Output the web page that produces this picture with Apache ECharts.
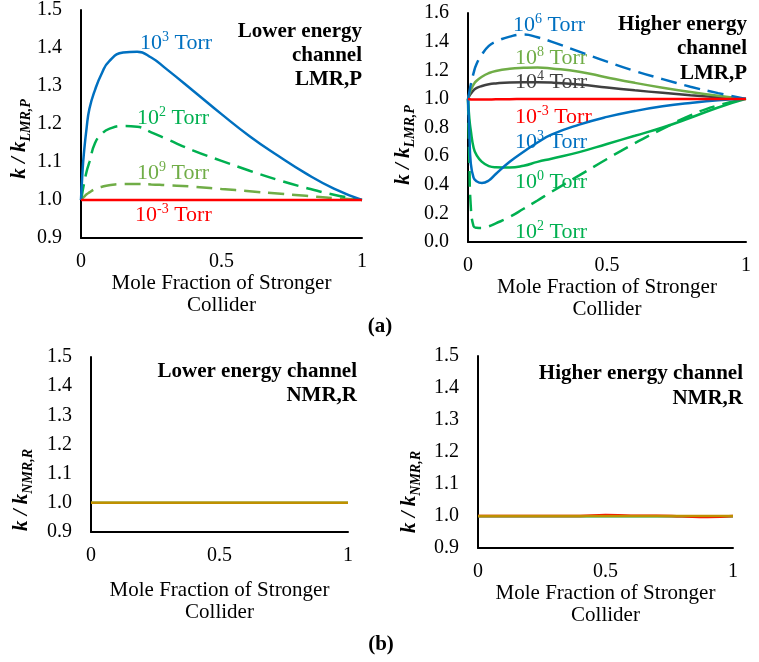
<!DOCTYPE html>
<html>
<head>
<meta charset="utf-8">
<script src="https://cdn.jsdelivr.net/npm/echarts@6/dist/echarts.min.js"></script>
<style>
  html, body { margin: 0; padding: 0; background: #fff; }
  #chart { width: 759px; height: 662px; }
</style>
</head>
<body>
<div id="chart"></div>
<script>
// 横轴取样点（上排两图共用）
const xTop = [0, 0.005, 0.01, 0.02, 0.03, 0.05, 0.075, 0.1, 0.15, 0.2, 0.25, 0.3, 0.4, 0.5, 0.6, 0.7, 0.8, 0.9, 1];

// (a) 左：Lower energy channel LMR,P
const lowP3 = [1.0, 1.07, 1.12, 1.19, 1.24, 1.29, 1.335, 1.365, 1.388, 1.39, 1.375, 1.347, 1.287, 1.226, 1.168, 1.117, 1.07, 1.03, 1.0];
const lowP2 = [1.0, 1.02, 1.04, 1.075, 1.1, 1.15, 1.175, 1.187, 1.195, 1.193, 1.178, 1.162, 1.13, 1.103, 1.077, 1.053, 1.032, 1.014, 1.0];
const lowP9 = [1.0, 1.004, 1.008, 1.015, 1.02, 1.029, 1.035, 1.039, 1.042, 1.042, 1.041, 1.039, 1.035, 1.029, 1.023, 1.017, 1.011, 1.005, 1.0];
const lowPm3 = [1.0, 1.0, 1.0, 1.0, 1.0, 1.0, 1.0, 1.0, 1.0, 1.0, 1.0, 1.0, 1.0, 1.0, 1.0, 1.0, 1.0, 1.0, 1.0];

// (a) 右：Higher energy channel LMR,P
const highP6 = [1.0, 1.05, 1.1, 1.18, 1.24, 1.31, 1.37, 1.4, 1.435, 1.45, 1.43, 1.4, 1.33, 1.26, 1.195, 1.138, 1.085, 1.04, 1.0];
const highP8 = [1.0, 1.035, 1.06, 1.1, 1.125, 1.155, 1.18, 1.195, 1.21, 1.217, 1.22, 1.213, 1.19, 1.15, 1.112, 1.078, 1.048, 1.022, 1.0];
const highP4 = [1.0, 1.02, 1.035, 1.06, 1.075, 1.09, 1.102, 1.108, 1.115, 1.117, 1.117, 1.114, 1.1, 1.08, 1.06, 1.042, 1.026, 1.012, 1.0];
const highPm3 = [1.0, 0.998, 0.996, 0.995, 0.995, 0.995, 0.996, 0.997, 0.998, 0.999, 1.0, 1.0, 1.0, 1.0, 1.0, 1.0, 1.0, 1.0, 1.0];
const highP3 = [1.0, 0.75, 0.55, 0.45, 0.425, 0.412, 0.43, 0.475, 0.56, 0.63, 0.695, 0.75, 0.82, 0.874, 0.915, 0.948, 0.972, 0.99, 1.0];
const highP0 = [1.0, 0.86, 0.78, 0.66, 0.61, 0.56, 0.53, 0.522, 0.52, 0.533, 0.56, 0.582, 0.628, 0.685, 0.742, 0.8, 0.868, 0.94, 1.0];
const highP2 = [1.0, 0.55, 0.25, 0.11, 0.1, 0.098, 0.11, 0.13, 0.175, 0.232, 0.29, 0.35, 0.465, 0.58, 0.69, 0.79, 0.885, 0.955, 1.0];

// (b) 下排：NMR,R
const xBottom = [0, 0.1, 0.2, 0.3, 0.4, 0.5, 0.6, 0.7, 0.8, 0.9, 1];
const lowRGreen = [1.0, 1.0, 1.0, 1.0, 1.0, 1.0, 1.0, 1.0, 1.0, 1.0, 1.0];
const lowRGold = [1.0, 1.0, 1.0, 1.0, 1.0, 1.0, 1.0, 1.0, 1.0, 1.0, 1.0];
const highRGreen = [0.999, 0.999, 0.999, 0.999, 0.999, 0.999, 0.999, 0.999, 0.999, 0.999, 0.999];
const highRRed = [1.0, 1.0, 1.0, 1.0, 1.0, 1.003, 1.001, 1.001, 0.999, 0.997, 1.0];
const highRGold = [1.0, 1.0, 1.0, 1.0, 1.0, 1.0, 1.0, 1.0, 1.0, 1.0, 1.0];

const FONT = 'Liberation Serif';
const BLUE = '#0070C0';
const GREEN = '#00B050';
const LGREEN = '#70AD47';
const RED = '#FF0000';
const DARK = '#404040';
const GOLD = '#BF9000';

const zip = (xs, ys) => xs.map((x, i) => [x, ys[i]]);

// 折线
const line = (idx, xs, ys, color, dashed) => ({
  type: 'line',
  xAxisIndex: idx,
  yAxisIndex: idx,
  data: zip(xs, ys),
  showSymbol: false,
  smooth: 0.5,
  silent: true,
  lineStyle: { color: color, width: 2.5, type: dashed ? [16, 8] : 'solid' },
  z: 3
});

// 坐标轴
const xAxis = (idx, nameGap) => ({
  type: 'value',
  gridIndex: idx,
  min: 0,
  max: 1,
  interval: 0.5,
  name: 'Mole Fraction of Stronger\nCollider',
  nameLocation: 'middle',
  nameGap: nameGap,
  nameTextStyle: { fontFamily: FONT, fontSize: 21, color: '#000', lineHeight: 22 },
  axisLine: { lineStyle: { color: '#000', width: 2 } },
  axisTick: { show: false },
  splitLine: { show: false },
  axisLabel: { fontFamily: FONT, fontSize: 20, color: '#000', margin: 14 }
});

const yAxis = (idx, min, max, interval) => ({
  type: 'value',
  gridIndex: idx,
  min: min,
  max: max,
  interval: interval,
  axisLine: { show: true, lineStyle: { color: '#000', width: 2 } },
  axisTick: { show: false },
  splitLine: { show: false },
  axisLabel: {
    fontFamily: FONT, fontSize: 20, color: '#000', margin: 19,
    formatter: v => v.toFixed(1)
  }
});

// 图中文字：10^n Torr
const torr = (left, y, exp, color) => ({
  type: 'text',
  x: left,
  y: y,
  style: {
    text: '{n|10}{s|' + exp + '}{n| Torr}',
    align: 'left',
    verticalAlign: 'middle',
    rich: {
      n: { fontFamily: FONT, fontSize: 22, fill: color, lineHeight: 26 },
      s: { fontFamily: FONT, fontSize: 14, fill: color, lineHeight: 14, verticalAlign: 'top' }
    }
  }
});

// 粗体说明文字
const note = (right, top, text, lh) => ({
  type: 'text',
  x: right,
  y: top,
  style: {
    text: text,
    align: 'right',
    verticalAlign: 'top',
    fontFamily: FONT,
    fontSize: 21,
    fontWeight: 'bold',
    lineHeight: lh,
    fill: '#000'
  }
});

// 纵轴标题 k / k_sub
const yName = (x, y, sub) => ({
  type: 'text',
  x: x,
  y: y,
  rotation: Math.PI / 2,
  style: {
    text: '{a|k / k}{b|' + sub + '}',
    align: 'center',
    verticalAlign: 'middle',
    rich: {
      a: { fontFamily: FONT, fontSize: 21, fontStyle: 'italic', fontWeight: 'bold', fill: '#000', lineHeight: 26 },
      b: { fontFamily: FONT, fontSize: 14, fontStyle: 'italic', fontWeight: 'bold', fill: '#000', lineHeight: 14, verticalAlign: 'bottom' }
    }
  }
});

const panelTag = (x, y, text) => ({
  type: 'text',
  x: x,
  y: y,
  style: {
    text: text, align: 'center', verticalAlign: 'middle',
    fontFamily: FONT, fontSize: 21, fontWeight: 'bold', fill: '#000'
  }
});

const chart = echarts.init(document.getElementById('chart'), null, { renderer: 'canvas' });

chart.setOption({
  backgroundColor: '#fff',
  animation: false,
  grid: [
    { left: 81, top: 10, width: 281, height: 228 },
    { left: 468, top: 13, width: 278, height: 229 },
    { left: 91, top: 357, width: 257, height: 175 },
    { left: 478, top: 356, width: 255, height: 192 }
  ],
  xAxis: [xAxis(0, 31), xAxis(1, 29), xAxis(2, 47), xAxis(3, 31)],
  yAxis: [
    yAxis(0, 0.9, 1.5, 0.1),
    yAxis(1, 0, 1.6, 0.2),
    yAxis(2, 0.9, 1.5, 0.1),
    yAxis(3, 0.9, 1.5, 0.1)
  ],
  series: [
    line(0, xTop, lowP9, LGREEN, true),
    line(0, xTop, lowP2, GREEN, true),
    line(0, xTop, lowP3, BLUE, false),
    line(0, xTop, lowPm3, RED, false),

    line(1, xTop, highP2, GREEN, true),
    line(1, xTop, highP0, GREEN, false),
    line(1, xTop, highP3, BLUE, false),
    line(1, xTop, highP4, DARK, false),
    line(1, xTop, highP8, LGREEN, false),
    line(1, xTop, highP6, BLUE, true),
    line(1, xTop, highPm3, RED, false),

    line(2, xBottom, lowRGreen, LGREEN, false),
    line(2, xBottom, lowRGold, GOLD, false),

    line(3, xBottom, highRGreen, GREEN, false),
    line(3, xBottom, highRRed, RED, false),
    line(3, xBottom, highRGold, GOLD, false)
  ],
  graphic: [
    torr(140, 43, '3', BLUE),
    torr(137, 118, '2', GREEN),
    torr(137, 173, '9', LGREEN),
    torr(135, 215, '-3', RED),
    note(362, 20, 'Lower energy\nchannel\nLMR,P', 24),

    torr(513, 25, '6', BLUE),
    torr(515, 58, '8', LGREEN),
    torr(515, 82, '4', DARK),
    torr(515, 117, '-3', RED),
    torr(515, 142, '3', BLUE),
    torr(515, 182, '0', GREEN),
    torr(515, 232, '2', GREEN),
    note(747, 12, 'Higher energy\nchannel\nLMR,P', 24.5),

    note(357, 360, 'Lower energy channel\nNMR,R', 24),
    note(743, 361, 'Higher energy channel\nNMR,R', 25),

    yName(20, 139, 'LMR,P'),
    yName(404, 145, 'LMR,P'),
    yName(22, 490, 'NMR,R'),
    yName(410, 492, 'NMR,R'),

    panelTag(380, 327, '(a)'),
    panelTag(381, 645, '(b)')
  ]
});
</script>
</body>
</html>
